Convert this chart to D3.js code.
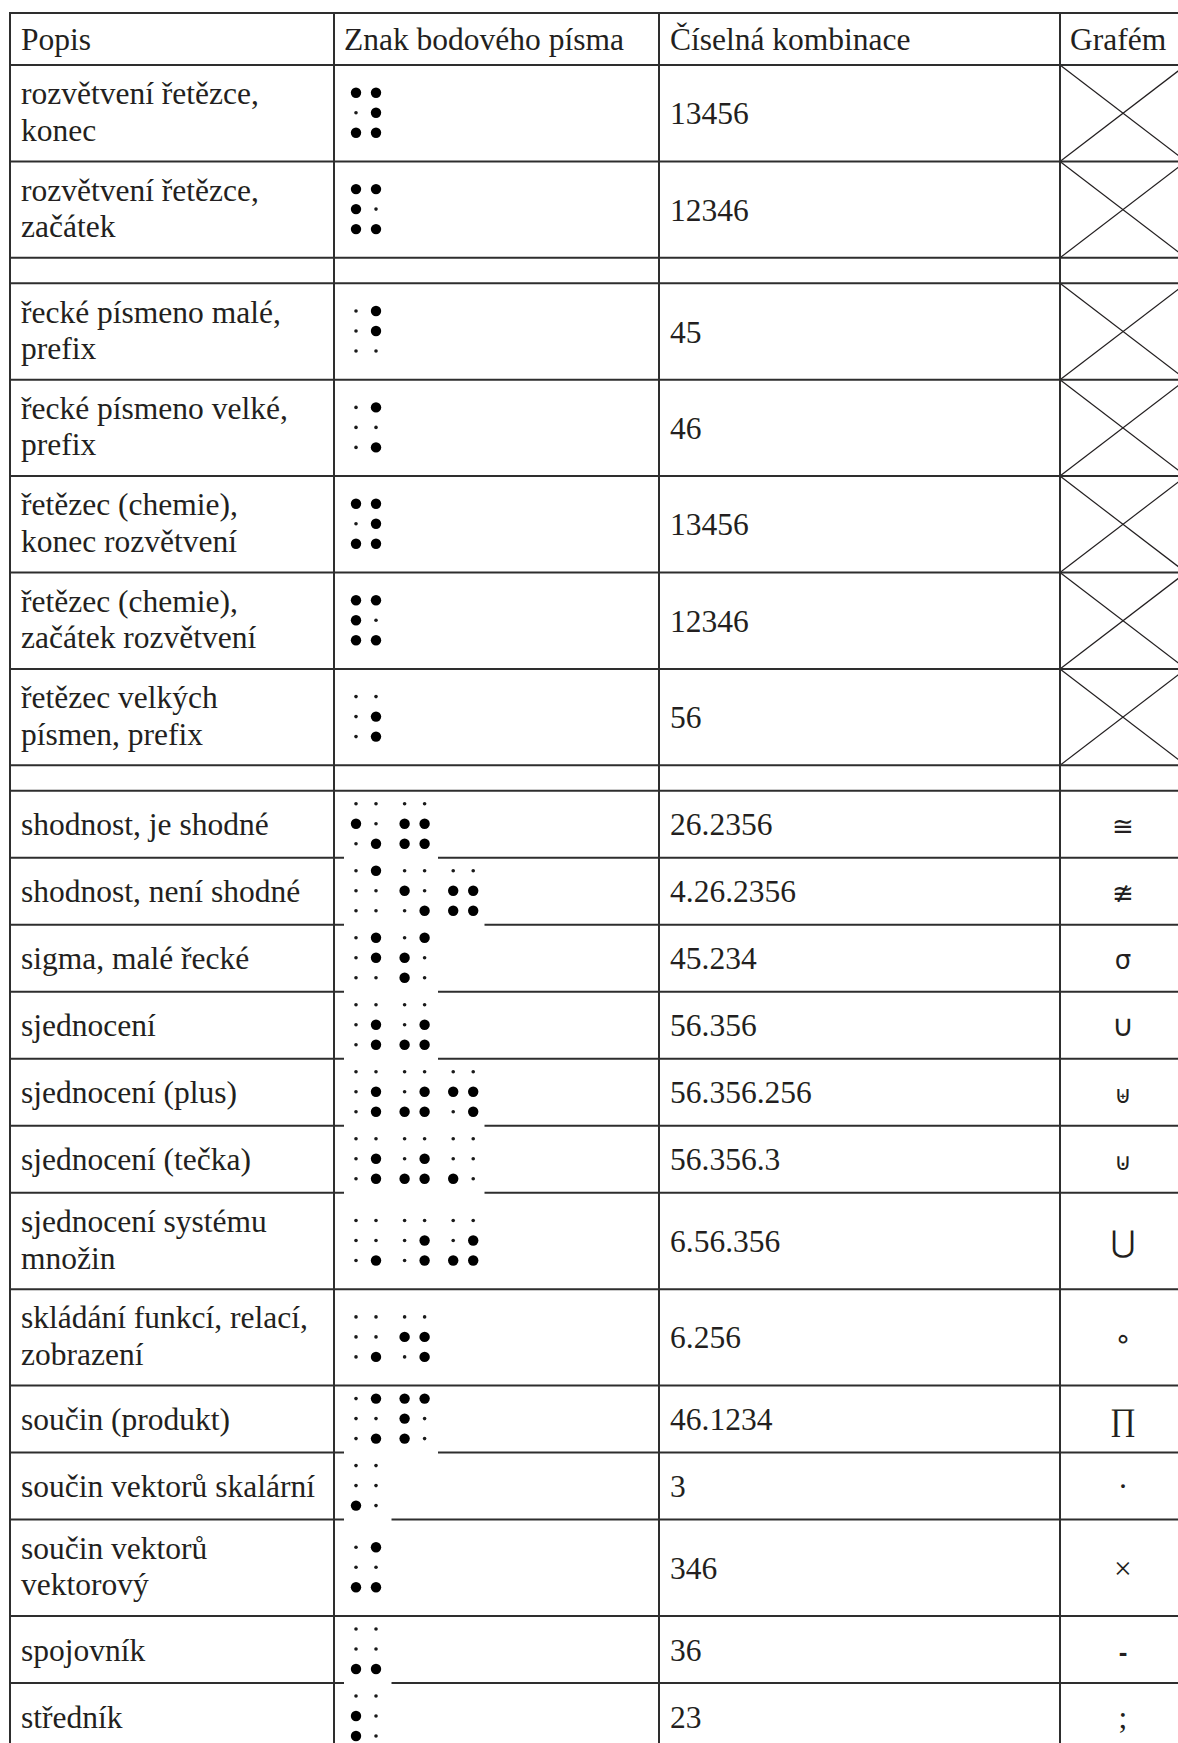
<!DOCTYPE html>
<html><head><meta charset="utf-8">
<script src="https://cdn.jsdelivr.net/npm/d3@7"></script>
<style>html,body{margin:0;padding:0;background:#fff;}svg{display:block}</style>
</head><body><div id="chart"></div>
<script>
// ---- data ----
const headers = ["Popis", "Znak bodového písma", "Číselná kombinace", "Grafém"];
const descriptions = [
  "rozvětvení řetězce,\nkonec",
  "rozvětvení řetězce,\nzačátek",
  null,
  "řecké písmeno malé,\nprefix",
  "řecké písmeno velké,\nprefix",
  "řetězec (chemie),\nkonec rozvětvení",
  "řetězec (chemie),\nzačátek rozvětvení",
  "řetězec velkých\npísmen, prefix",
  null,
  "shodnost, je shodné",
  "shodnost, není shodné",
  "sigma, malé řecké",
  "sjednocení",
  "sjednocení (plus)",
  "sjednocení (tečka)",
  "sjednocení systému\nmnožin",
  "skládání funkcí, relací,\nzobrazení",
  "součin (produkt)",
  "součin vektorů skalární",
  "součin vektorů\nvektorový",
  "spojovník",
  "středník"
];
const combinations = ["13456", "12346", null, "45", "46", "13456", "12346", "56", null,
  "26.2356", "4.26.2356", "45.234", "56.356", "56.356.256", "56.356.3", "6.56.356",
  "6.256", "46.1234", "3", "346", "36", "23"];
// null = crossed-out cell, "" = blank separator
const graphemes = [null, null, "", null, null, null, null, null, "",
  "≅", "≇", "σ", "∪", "⊎", "⊍", "⋃", "∘", "∏", "·", "×", "-", ";"];

// ---- layout / style ----
const W = 1178, H = 1743;
const colEdges = [10, 334, 659, 1060, 1186];
const tableTop = 13, headerH = 52;
const H_TWO = 96.4, H_ONE = 67, H_GAP = 25.5;
const FONT = "Liberation Serif", FS = 31.5, INK = "#231f20", LINE = "#2e2e2e";
const symStyle = {
  "≅": {f: "DejaVu Sans", s: 26}, "≇": {f: "DejaVu Sans", s: 26},
  "σ": {f: "DejaVu Sans", s: 26}, "∪": {f: "DejaVu Sans", s: 30},
  "⊎": {f: "DejaVu Sans", s: 24}, "⊍": {f: "DejaVu Sans", s: 24},
  "⋃": {f: "DejaVu Sans", s: 30}, "∘": {f: "DejaVu Sans", s: 28},
  "∏": {f: "Liberation Serif", s: 31.5}, "·": {f: "Liberation Serif", s: 31.5},
  "×": {f: "Liberation Serif", s: 31.5}, "-": {f: "Liberation Sans", s: 26, w: "bold"},
  ";": {f: "Liberation Serif", s: 31.5}
};

const rows = descriptions.map((d, i) => ({
  i, desc: d, combo: combinations[i], graph: graphemes[i],
  h: d === null ? H_GAP : (d.includes("\n") ? H_TWO : H_ONE)
}));
const tops = [tableTop + headerH];
rows.forEach((r, i) => tops.push(tops[i] + r.h));
rows.forEach((r, i) => { r.top = tops[i]; r.bot = tops[i + 1]; r.cy = (r.top + r.bot) / 2; });

// scales
const yRow = d3.scaleOrdinal().domain(rows.map(r => r.i)).range(rows.map(r => r.cy));
const xText = d3.scaleOrdinal().domain(["desc", "braille", "combo", "graph"]).range([21, 344, 670, 1123]);
const xCell = d3.scaleLinear().domain([0, 1]).range([356, 404.6]);   // braille cell index -> left dot column
const xDotCol = d3.scaleLinear().domain([0, 1]).range([0, 20]);       // column within cell
const yDotRow = d3.scaleLinear().domain([0, 2]).range([-20, 20]);     // row within cell

const svg = d3.select("#chart").append("svg").attr("width", W).attr("height", H);
svg.append("rect").attr("width", W).attr("height", H).attr("fill", "#fff");

// crossed-out cells
const xr = rows.filter(r => r.graph === null);
const gx = svg.append("g").attr("stroke", INK).attr("stroke-width", 1.2);
xr.forEach(r => {
  gx.append("line").attr("x1", colEdges[3]).attr("y1", r.top).attr("x2", colEdges[4]).attr("y2", r.bot);
  gx.append("line").attr("x1", colEdges[3]).attr("y1", r.bot).attr("x2", colEdges[4]).attr("y2", r.top);
});

// grid
const grid = svg.append("g").attr("stroke", LINE).attr("stroke-width", 2);
[tableTop].concat(tops).forEach(y => {
  grid.append("line").attr("x1", colEdges[0] - 1).attr("x2", W + 20).attr("y1", y).attr("y2", y);
});
colEdges.slice(0, 4).forEach(x => {
  grid.append("line").attr("x1", x).attr("x2", x).attr("y1", tableTop - 1).attr("y2", H + 20);
});

// braille
const bg = svg.append("g");
rows.filter(r => r.combo).forEach(r => {
  const cells = r.combo.split(".");
  const dcy = yRow(r.i) - 0.5;
  bg.append("rect").attr("x", 344).attr("y", dcy - 31)
    .attr("width", 46.5 * cells.length + 1).attr("height", 67).attr("fill", "#fff");
  cells.forEach((c, k) => {
    for (let dot = 1; dot <= 6; dot++) {
      const col = dot <= 3 ? 0 : 1, row = (dot - 1) % 3;
      const on = c.includes(String(dot));
      bg.append("circle")
        .attr("cx", xCell(k) + xDotCol(col))
        .attr("cy", dcy + yDotRow(row))
        .attr("r", on ? 5.2 : 1.8)
        .attr("fill", on ? "#000" : "#1a1a1a");
    }
  });
});

// header text
const txt = svg.append("g").attr("font-family", FONT).attr("font-size", FS).attr("fill", INK);
["desc", "braille", "combo"].forEach((k, j) => {
  txt.append("text").attr("x", xText(k)).attr("y", tableTop + headerH / 2 + 11).text(headers[j]);
});
txt.append("text").attr("x", 1070).attr("y", tableTop + headerH / 2 + 11).text(headers[3]);

// body text
rows.filter(r => r.desc).forEach(r => {
  const lines = r.desc.split("\n");
  const cy = yRow(r.i);
  if (lines.length === 1) {
    txt.append("text").attr("x", xText("desc")).attr("y", cy + 11).text(lines[0]);
  } else {
    txt.append("text").attr("x", xText("desc")).attr("y", cy - 9).text(lines[0]);
    txt.append("text").attr("x", xText("desc")).attr("y", cy + 27.5).text(lines[1]);
  }
  txt.append("text").attr("x", xText("combo")).attr("y", cy + 11).text(r.combo);
  if (r.graph) {
    const st = symStyle[r.graph];
    svg.append("text").attr("x", xText("graph")).attr("y", cy + 11)
      .attr("text-anchor", "middle").attr("font-family", st.f).attr("font-size", st.s)
      .attr("font-weight", st.w || "normal").attr("fill", INK).text(r.graph);
  }
});
</script>
</body></html>
